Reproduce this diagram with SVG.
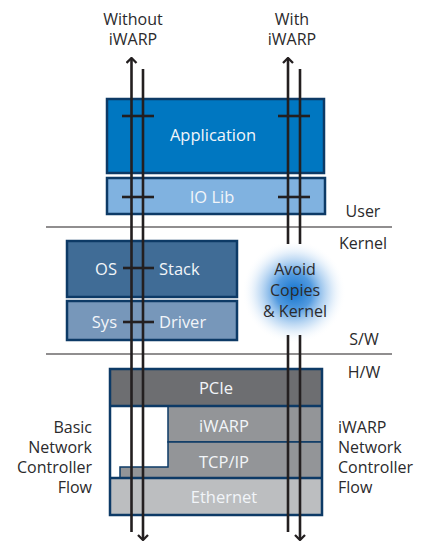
<svg xmlns="http://www.w3.org/2000/svg" width="431" height="541" viewBox="0 0 431 541">
<style>
.lbl{font-family:"Open Sans","Noto Sans","DejaVu Sans",sans-serif;font-size:16px;fill:#2b2a2c}
.in{font-family:"Open Sans","Noto Sans","DejaVu Sans",sans-serif;font-size:16.5px;fill:#f2f5f9}
.flow{stroke:#231f20;stroke-width:2.6;fill:none}
.tick{stroke:#231f20;stroke-width:2.6}
.sep{stroke:#231f20;stroke-width:1.2}
.nb{stroke:#0d3a66;stroke-width:2.5}
.nbt{stroke:#0d3a66;stroke-width:1.5}
</style>
<defs>
<marker id="ah" viewBox="0 0 10 12" refX="8.5" refY="6" markerWidth="10" markerHeight="12" markerUnits="userSpaceOnUse" orient="auto">
<polyline points="3.5,1 8.5,6 3.5,11" fill="none" stroke="#231f20" stroke-width="2.3"/>
</marker>
<radialGradient id="glow" cx="0.5" cy="0.5" r="0.5">
<stop offset="0" stop-color="#1273cc"/>
<stop offset="0.35" stop-color="#3f8fdc" stop-opacity="0.9"/>
<stop offset="0.7" stop-color="#a9cdf0" stop-opacity="0.5"/>
<stop offset="1" stop-color="#ffffff" stop-opacity="0"/>
</radialGradient>
</defs>
<rect width="431" height="541" fill="#ffffff"/>

<g id="labels">
<text class="lbl" x="133" y="25" text-anchor="middle">Without</text>
<text class="lbl" x="133" y="45" text-anchor="middle">iWARP</text>
<text class="lbl" x="292" y="25" text-anchor="middle">With</text>
<text class="lbl" x="292" y="45" text-anchor="middle">iWARP</text>
<text class="lbl" x="363" y="217" text-anchor="middle">User</text>
<text class="lbl" x="363" y="249" text-anchor="middle">Kernel</text>
<text class="lbl" x="364" y="345" text-anchor="middle">S/W</text>
<text class="lbl" x="364" y="378" text-anchor="middle">H/W</text>
<text class="lbl" x="92" y="433" text-anchor="end">Basic</text>
<text class="lbl" x="92" y="453" text-anchor="end">Network</text>
<text class="lbl" x="92" y="473" text-anchor="end">Controller</text>
<text class="lbl" x="92" y="493" text-anchor="end">Flow</text>
<text class="lbl" x="338" y="433">iWARP</text>
<text class="lbl" x="338" y="453">Network</text>
<text class="lbl" x="338" y="473">Controller</text>
<text class="lbl" x="338" y="493">Flow</text>
</g>

<g id="separators">
<line class="sep" x1="46" y1="227" x2="392" y2="227"/>
<line class="sep" x1="46" y1="354" x2="392" y2="354"/>
</g>

<g id="application">
<rect x="107" y="99" width="217" height="74" fill="#0077c1" class="nb"/>
<text class="in" x="213" y="141" text-anchor="middle">Application</text>
</g>
<g id="iolib">
<rect x="107" y="178" width="218" height="36" fill="#80b2e0" class="nb"/>
<text class="in" x="212" y="203" text-anchor="middle">IO Lib</text>
</g>
<g id="osstack">
<rect x="67" y="241" width="170" height="56" fill="#406c96" class="nb"/>
<text class="in" x="117" y="275" text-anchor="end">OS</text>
<text class="in" x="159" y="275">Stack</text>
</g>
<g id="sysdriver">
<rect x="67" y="301" width="170" height="39" fill="#7797ba" class="nb"/>
<text class="in" x="117" y="328" text-anchor="end">Sys</text>
<text class="in" x="159" y="328">Driver</text>
</g>

<g id="avoid">
<circle cx="294" cy="292" r="52" fill="url(#glow)"/>
<text class="lbl" x="295" y="275" text-anchor="middle">Avoid</text>
<text class="lbl" x="295" y="296" text-anchor="middle">Copies</text>
<text class="lbl" x="295" y="317" text-anchor="middle">&amp; Kernel</text>
</g>

<g id="controller">
<rect x="110" y="369" width="212" height="146" fill="#ffffff"/>
<rect x="110" y="369" width="212" height="37" fill="#6d6e71"/>
<rect x="110" y="478" width="212" height="37" fill="#bcbec0"/>
<rect x="168" y="406" width="154" height="36" fill="#939598" class="nbt"/>
<polygon points="168,442 322,442 322,478 120,478 120,467 168,467" fill="#939598" class="nbt"/>
<line x1="110" y1="406" x2="322" y2="406" class="nb"/>
<line x1="110" y1="478" x2="322" y2="478" class="nb"/>
<rect x="110" y="369" width="212" height="146" fill="none" class="nb"/>
<text class="in" x="216" y="394" text-anchor="middle">PCIe</text>
<text class="in" x="224" y="432" text-anchor="middle">iWARP</text>
<text class="in" x="224" y="468" text-anchor="middle">TCP/IP</text>
<text class="in" x="224" y="503" text-anchor="middle">Ethernet</text>
</g>

<g id="connectors">
<line class="flow" x1="131.5" y1="532" x2="131.5" y2="58" marker-end="url(#ah)"/>
<line class="flow" x1="143" y1="69" x2="143" y2="540" marker-end="url(#ah)"/>
<line class="flow" x1="288" y1="244" x2="288" y2="58" marker-end="url(#ah)"/>
<line class="flow" x1="300" y1="69" x2="300" y2="244"/>
<line class="flow" x1="288" y1="335" x2="288" y2="532"/>
<line class="flow" x1="300" y1="335" x2="300" y2="540" marker-end="url(#ah)"/>
<line class="tick" x1="122" y1="116" x2="154" y2="116"/>
<line class="tick" x1="278" y1="116" x2="310" y2="116"/>
<line class="tick" x1="122" y1="197" x2="154" y2="197"/>
<line class="tick" x1="278" y1="197" x2="310" y2="197"/>
<line class="tick" x1="123" y1="268" x2="154" y2="268"/>
<line class="tick" x1="123" y1="322" x2="154" y2="322"/>
</g>
</svg>
